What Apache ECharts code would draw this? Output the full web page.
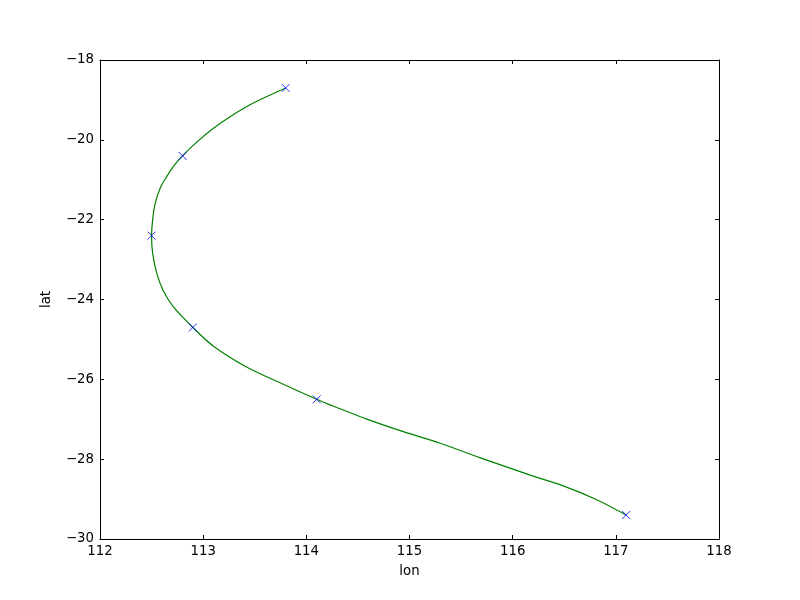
<!DOCTYPE html>
<html>
<head>
<meta charset="utf-8">
<script src="https://cdn.jsdelivr.net/npm/echarts@6/dist/echarts.min.js"></script>
<style>html,body{margin:0;padding:0;background:#fff;}#c{width:800px;height:600px;}</style>
</head>
<body>
<div id="c"></div>
<script>
// Observed positions (markers)
var lon = [113.8, 112.8, 112.5, 112.9, 114.1, 117.1];
var lat = [-18.7, -20.4, -22.4, -24.7, -26.5, -29.4];
// Fitted track
var curveLon = [113.8, 113.58, 113.42, 113.26, 113.10, 112.94, 112.8, 112.71, 112.635, 112.585, 112.535, 112.51, 112.5,
                112.51, 112.55, 112.61, 112.71, 112.9, 113.10, 113.42, 113.74, 114.1, 114.23, 114.58, 114.94,
                115.30, 115.68, 116.17, 116.49, 116.81, 117.1];
var curveLat = [-18.7, -18.96, -19.17, -19.42, -19.71, -20.05, -20.4, -20.67, -20.97, -21.20, -21.59, -22.01, -22.4,
                -22.84, -23.34, -23.76, -24.18, -24.7, -25.17, -25.69, -26.08, -26.5, -26.64, -26.99, -27.31,
                -27.60, -27.96, -28.40, -28.67, -29.01, -29.4];
var xTicks = [112, 113, 114, 115, 116, 117, 118];
var yTicks = [-30, -28, -26, -24, -22, -20, -18];

var pts = lon.map(function (x, i) { return [x, lat[i]]; });
var curve = curveLon.map(function (x, i) { return [x, curveLat[i]]; });
var fmt = function (v) { return String(v).replace('-', '\u2212'); };
var font = 'DejaVu Sans';
var fs = 13.3;
var chart = echarts.init(document.getElementById('c'));
var axLine = { show: true, lineStyle: { color: '#000', width: 1 } };
var tick = { show: true, inside: true, length: 4, lineStyle: { color: '#000' } };
chart.setOption({
  animation: false,
  backgroundColor: '#fff',
  grid: { left: 100, right: 81, top: 60, bottom: 61, show: false },
  xAxis: [{
    type: 'value', min: xTicks[0], max: xTicks[xTicks.length - 1], interval: 1,
    position: 'bottom',
    name: 'lon', nameLocation: 'middle', nameGap: 26,
    nameTextStyle: { fontFamily: font, fontSize: fs, color: '#000' },
    axisLine: axLine, axisTick: tick, splitLine: { show: false },
    axisLabel: { fontFamily: font, fontSize: fs, color: '#000', margin: 6, formatter: fmt }
  }, {
    type: 'value', min: xTicks[0], max: xTicks[xTicks.length - 1], interval: 1,
    position: 'top',
    axisLine: axLine, axisTick: tick, splitLine: { show: false },
    axisLabel: { show: false }
  }],
  yAxis: [{
    type: 'value', min: yTicks[0], max: yTicks[yTicks.length - 1], interval: 2,
    position: 'left',
    name: 'lat', nameLocation: 'middle', nameGap: 47, nameRotate: 90,
    nameTextStyle: { fontFamily: font, fontSize: fs, color: '#000' },
    axisLine: axLine, axisTick: tick, splitLine: { show: false },
    axisLabel: { fontFamily: font, fontSize: fs, color: '#000', margin: 6, formatter: fmt }
  }, {
    type: 'value', min: yTicks[0], max: yTicks[yTicks.length - 1], interval: 2,
    position: 'right',
    axisLine: axLine, axisTick: tick, splitLine: { show: false },
    axisLabel: { show: false }
  }],
  series: [{
    type: 'line', data: curve, smooth: 0.3, showSymbol: false,
    lineStyle: { color: '#008000', width: 1.2 }, z: 2
  }, {
    type: 'scatter', data: pts,
    symbol: 'path://M0,0L10,10M10,0L0,10', symbolSize: 8,
    itemStyle: { color: 'none', borderColor: '#0000ff', borderWidth: 1 }, z: 3
  }]
});
</script>
</body>
</html>
